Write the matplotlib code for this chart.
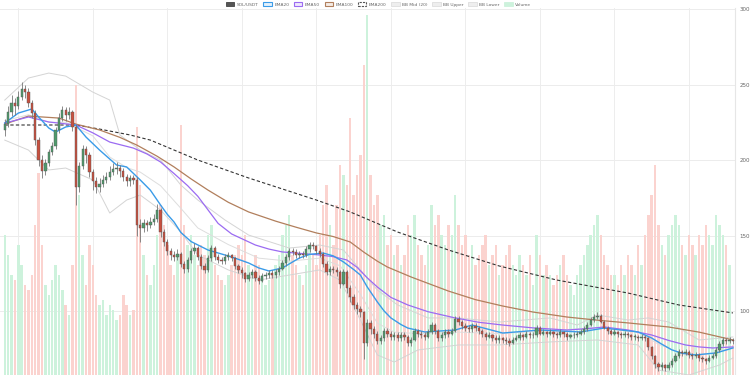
import numpy as np
import matplotlib.pyplot as plt
from matplotlib.patches import Patch, Rectangle

# ---- candles (daily SOL/USDT) ----
first_open = 220
closes = [
    224, 232, 238, 236, 242, 247, 245, 238, 231, 213,
    200, 193, 198, 205, 209, 220, 228, 233, 230, 232,
    222, 182, 196, 207, 203, 192, 186, 182, 184, 187,
    189, 192, 194, 195, 193, 189, 186, 188, 187, 157,
    155, 158, 157, 159, 161, 167, 152, 146, 140, 137,
    136, 138, 131, 128, 134, 140, 142, 136, 130, 127,
    135, 142, 136, 134, 133, 136, 137, 135, 130, 127,
    125, 121, 124, 126, 122, 120, 123, 124, 125, 124,
    126, 128, 132, 136, 140, 139, 137, 138, 137, 141,
    144, 143, 140, 138, 131, 126, 128, 127, 126, 118,
    126, 115, 109, 104, 101, 99, 79, 92, 88, 85,
    80, 82, 87, 85, 83, 84, 82, 84, 83, 79,
    81, 87, 85, 84, 83, 86, 91, 87, 82, 84,
    86, 85, 87, 95, 93, 90, 89, 88, 90, 89,
    87, 85, 83, 84, 82, 81, 82, 81, 80, 79,
    81, 82, 84, 83, 85, 84, 84, 89, 85, 86,
    85, 86, 85, 84, 86, 85, 83, 84, 84, 85,
    86, 88, 91, 94, 96, 97, 93, 89, 87, 85,
    86, 85, 84, 85, 84, 83, 83, 82, 83, 82,
    76, 70, 65, 63, 64, 62, 64, 67, 70, 73,
    72, 73, 71, 70, 71, 69, 68, 67, 69, 70,
    74, 78, 81, 80, 81, 80,
]
highs = [
    227, 236, 243, 241, 246, 252, 250, 248, 240, 233,
    215, 203, 201, 207, 212, 222, 231, 236, 235, 235,
    233, 224, 199, 210, 209, 205, 194, 189, 188, 190,
    192, 196, 198, 199, 197, 195, 191, 190, 190, 189,
    161, 161, 160, 162, 164, 171, 168, 154, 148, 142,
    140, 141, 139, 133, 136, 142, 145, 143, 138, 132,
    137, 144, 143, 138, 136, 138, 139, 138, 136, 131,
    129, 126, 126, 128, 127, 124, 125, 126, 127, 127,
    128, 130, 134, 138, 142, 142, 141, 140, 140, 143,
    146, 146, 144, 142, 139, 133, 130, 130, 129, 127,
    128, 127, 117, 111, 106, 103, 100, 95, 94, 90,
    87, 84, 89, 89, 87, 86, 86, 86, 86, 84,
    83, 89, 88, 87, 86, 88, 93, 92, 88, 86,
    88, 88, 89, 97, 97, 94, 92, 91, 92, 92,
    90, 88, 86, 86, 85, 84, 84, 83, 83, 82,
    83, 84, 86, 85, 87, 86, 86, 91, 90, 88,
    87, 88, 87, 86, 88, 87, 86, 85, 86, 87,
    88, 90, 93, 96, 98, 99, 98, 94, 90, 88,
    88, 87, 86, 87, 86, 85, 85, 84, 85, 84,
    83, 77, 71, 66, 66, 65, 66, 69, 72, 75,
    74, 75, 74, 72, 73, 72, 70, 69, 71, 72,
    76, 80, 83, 82, 83, 82,
]
lows = [
    216, 222, 229, 230, 234, 240, 241, 235, 228, 210,
    196, 188, 190, 196, 203, 207, 218, 226, 226, 227,
    219, 170, 179, 194, 198, 189, 180, 178, 179, 182,
    185, 187, 190, 191, 189, 186, 183, 183, 184, 150,
    146, 152, 153, 155, 157, 159, 149, 143, 137, 134,
    133, 134, 129, 125, 126, 132, 138, 134, 128, 125,
    126, 133, 134, 132, 131, 131, 134, 133, 128, 125,
    122, 119, 120, 122, 120, 118, 119, 121, 122, 122,
    122, 124, 127, 130, 134, 137, 135, 135, 135, 136,
    139, 141, 138, 136, 129, 124, 124, 125, 123, 115,
    117, 112, 106, 101, 98, 96, 68, 77, 85, 82,
    78, 78, 80, 83, 81, 81, 80, 80, 81, 77,
    77, 80, 83, 82, 81, 82, 85, 85, 80, 80,
    82, 83, 84, 86, 91, 88, 87, 86, 86, 87,
    85, 83, 81, 82, 80, 79, 79, 79, 78, 77,
    78, 80, 81, 81, 82, 82, 82, 83, 84, 84,
    83, 84, 83, 82, 83, 83, 81, 82, 82, 83,
    84, 85, 87, 90, 93, 95, 92, 88, 85, 84,
    84, 83, 82, 83, 82, 81, 81, 80, 81, 80,
    74, 68, 62, 60, 61, 60, 61, 63, 66, 69,
    70, 71, 69, 68, 69, 67, 66, 65, 66, 68,
    69, 73, 77, 78, 79, 78,
]
volumes = [
    140, 120, 100, 95, 130, 110, 90, 85, 100, 150,
    202, 130, 90, 80, 95, 110, 100, 85, 70, 60,
    110, 290, 180, 120, 90, 130, 110, 80, 70, 75,
    60, 70, 65, 55, 60, 80, 70, 60, 65, 248,
    190, 120, 100, 90, 110, 140, 170, 150, 130, 110,
    100, 120, 250, 150, 130, 140, 120, 110, 130, 120,
    140, 150, 110, 100, 95, 90, 100, 110, 120, 130,
    120, 140, 110, 100, 120, 110, 100, 90, 95, 100,
    110, 120, 140, 150, 160, 120, 110, 100, 90, 110,
    130, 120, 110, 140, 170, 190, 150, 130, 170, 210,
    200, 190, 257, 180, 200, 220, 310, 360, 200, 170,
    180, 150, 160, 130, 140, 120, 130, 110, 120, 150,
    140, 160, 130, 120, 110, 130, 170, 150, 160, 140,
    130, 150, 140, 180, 150, 130, 140, 120, 130, 110,
    120, 130, 140, 110, 120, 130, 100, 110, 120, 130,
    110, 100, 120, 110, 100, 120, 90, 140, 120, 100,
    110, 100, 90, 100, 110, 120, 100, 90, 80, 100,
    110, 120, 130, 140, 150, 160, 140, 120, 110, 100,
    100, 90, 110, 100, 120, 110, 100, 130, 110, 140,
    160, 180, 210, 150, 130, 120, 140, 150, 160, 150,
    130, 120, 140, 130, 120, 140, 130, 150, 140, 130,
    160, 150, 140, 130, 110, 30,
]

# ---- indicator lines, sampled (candle index, price) ----
ema20_idx = [0, 4, 8, 10, 13, 15, 18, 21, 24, 28, 33, 36, 40, 43, 46, 48, 50, 52, 55, 60,
             65, 68, 72, 75, 78, 82, 85, 87, 90, 94, 97, 100, 103, 105, 107, 110, 112, 114,
             117, 119, 124, 133, 138, 147, 158, 170, 177, 187, 191, 194, 197, 200, 204, 210,
             215]
ema20_val = [224.5, 231.1, 233.8, 228.5, 221.2, 218.5, 221.9, 223.2, 215.2, 206.6, 196.7,
             195.4, 186.8, 180.0, 170.2, 164.0, 158.9, 152.0, 146.0, 140.4, 137.1, 135.0,
             131.8, 128.5, 126.5, 128.5, 132.5, 135.1, 137.5, 138.4, 136.5, 132.5, 127.5,
             123.8, 116.0, 106.0, 100.0, 95.4, 91.0, 88.7, 86.1, 87.4, 90.7, 85.4, 87.4,
             86.1, 88.7, 86.1, 82.1, 78.0, 74.2, 72.0, 70.9, 72.2, 75.5]
ema50_idx = [0, 7, 13, 21, 26, 31, 38, 42, 46, 50, 54, 57, 60, 63, 67, 74, 78, 82, 88, 93,
             97, 101, 104, 107, 110, 114, 119, 125, 133, 140, 147, 156, 166, 172, 177, 184,
             191, 196, 201, 205, 209, 215]
ema50_val = [224.5, 228.5, 225.2, 223.2, 218.0, 211.9, 207.9, 204.0, 198.7, 191.0, 183.0,
             176.0, 167.0, 158.0, 151.0, 143.7, 141.0, 139.1, 138.0, 137.1, 136.0, 133.8,
             129.0, 122.0, 115.9, 109.0, 104.0, 99.5, 95.4, 92.5, 90.7, 88.8, 87.4, 88.3,
             89.4, 87.4, 84.1, 80.5, 77.5, 76.2, 75.5, 76.2]
ema100_idx = [0, 7, 16, 21, 28, 34, 39, 45, 50, 55, 60, 66, 72, 80, 86, 92, 97, 102, 106,
              110, 113, 120, 131, 139, 147, 156, 166, 175, 184, 196, 205, 215]
ema100_val = [223.8, 229.1, 227.8, 223.8, 219.9, 215.0, 209.9, 202.5, 195.4, 187.5, 180.1,
              172.0, 165.6, 159.5, 155.5, 151.7, 149.3, 145.7, 139.0, 133.0, 129.1, 122.5,
              113.2, 107.5, 103.3, 99.3, 96.0, 93.9, 92.1, 89.4, 86.0, 80.8]
ema200_idx = [0, 21, 28, 37, 43, 50, 57, 72, 92, 102, 116, 131, 146, 163, 184, 199, 215]
ema200_val = [223.2, 223.2, 220.5, 216.6, 213.2, 206.6, 200.0, 188.1, 173.5, 165.6, 152.3,
              140.4, 129.8, 120.5, 111.9, 104.0, 98.7]

bb_up_idx = [0, 7, 13, 18, 26, 31, 34, 40, 46, 52, 57, 65, 72, 84, 93, 100, 105, 110, 116,
             125, 134, 146, 161, 169, 175, 184, 190, 196, 205, 215]
bb_up_val = [239.7, 254.3, 257.6, 255.6, 245.0, 239.7, 216.6, 206.6, 200.0, 183.4, 173.5,
             160.3, 150.3, 141.7, 143.7, 140.4, 127.2, 113.9, 104.0, 95.4, 95.4, 92.7, 95.4,
             90.7, 97.4, 94.0, 95.4, 92.7, 80.8, 82.8]
bb_lo_idx = [0, 7, 13, 18, 26, 31, 36, 40, 46, 52, 57, 66, 75, 84, 93, 99, 105, 110, 115,
             122, 134, 146, 161, 175, 187, 193, 202, 211, 215]
bb_lo_val = [213.2, 206.6, 193.4, 194.7, 186.8, 164.9, 173.5, 176.8, 166.9, 152.3, 137.1,
             127.2, 120.5, 123.8, 127.2, 120.5, 94.0, 70.9, 66.2, 74.2, 77.5, 77.5, 79.5,
             80.8, 77.5, 60.9, 57.6, 64.2, 68.9]
bb_mid_idx = [0, 7, 13, 18, 26, 31, 36, 40, 46, 52, 57, 66, 75, 84, 93, 99, 105, 110, 115,
              122, 134, 146, 161, 175, 187, 193, 202, 211, 215]
bb_mid_val = [226, 230, 225, 225, 216, 202, 195, 192, 183, 168, 155, 144, 135, 133, 135, 130,
              111, 92, 86, 85, 86, 85, 87, 89, 86, 78, 70, 73, 76]

price_ticks = [100, 150, 200, 250, 300]

UP, DOWN = "#4f9b6c", "#c9503f"
VOL_UP, VOL_DOWN = "#cdf2dc", "#fbd3cf"

opens = [first_open] + closes[:-1]
n = len(closes)
x = np.arange(n)
up = np.array(closes) >= np.array(opens)

fig = plt.figure(figsize=(7.5, 3.75), dpi=100)
rect = [0.0, 0.0, 735 / 750, 367 / 375]
axv = fig.add_axes(rect)
ax = fig.add_axes(rect, sharex=axv)
ax.patch.set_visible(False)

# volume underneath
axv.bar(x, volumes, width=0.72, color=[VOL_UP if u else VOL_DOWN for u in up], zorder=1)
axv.set_ylim(0, 367)
axv.set_yticks([])
axv.set_xlim(-1.4, n - 0.4)
for s in axv.spines.values():
    s.set_visible(False)
axv.spines["right"].set_visible(True)
axv.spines["right"].set_color("#e6e6e6")
axv.spines["right"].set_linewidth(0.8)
for gx in range(4, n, 22):
    axv.axvline(gx, color="#ededed", lw=0.7, zorder=0)
for t in price_ticks:
    axv.axhline((t - 57.6) / (300.7 - 57.6) * 367, color="#ececec", lw=0.7, zorder=0)
axv.tick_params(axis="x", length=0, labelbottom=False)

# bollinger bands
ax.plot(bb_up_idx, bb_up_val, color="#d4d4d4", lw=0.7, zorder=2)
ax.plot(bb_lo_idx, bb_lo_val, color="#d4d4d4", lw=0.7, zorder=2)
ax.plot(bb_mid_idx, bb_mid_val, color="#dddddd", lw=0.7, zorder=2)

# EMAs
ax.plot(ema200_idx, ema200_val, color="#333333", lw=0.8, ls=(0, (3, 2)), zorder=3)
ax.plot(ema100_idx, ema100_val, color="#b17f5c", lw=0.9, zorder=3)
ax.plot(ema50_idx, ema50_val, color="#9b6bf2", lw=0.9, zorder=3)
ax.plot(ema20_idx, ema20_val, color="#3a9be8", lw=1.0, zorder=3)

# candles
for i in range(n):
    o, c, h, l = opens[i], closes[i], highs[i], lows[i]
    col = UP if up[i] else DOWN
    ax.vlines(i, l, h, color="#777777", lw=0.6, zorder=4)
    lo, hi = min(o, c), max(o, c)
    ax.add_patch(Rectangle((i - 0.33, lo), 0.66, max(hi - lo, 0.4), facecolor=col,
                           edgecolor="#555555", lw=0.3, zorder=5))

ax.set_ylim(57.6, 300.7)
ax.set_yticks(price_ticks)
ax.yaxis.tick_right()
ax.tick_params(axis="y", length=0, pad=3, labelsize=4, labelcolor="#666666")
ax.tick_params(axis="x", length=0, labelbottom=False)
for s in ax.spines.values():
    s.set_visible(False)

handles = [
    Patch(facecolor="#555555", edgecolor="#444444", lw=0.6),
    Patch(facecolor="#e3f1fc", edgecolor="#3a9be8", lw=0.8),
    Patch(facecolor="#efe8fd", edgecolor="#9b6bf2", lw=0.8),
    Patch(facecolor="#f5ece6", edgecolor="#b17f5c", lw=0.8),
    Patch(facecolor="white", edgecolor="#555555", lw=0.8, ls=(0, (2, 1))),
    Patch(facecolor="#eeeeee", edgecolor="#dddddd", lw=0.6),
    Patch(facecolor="#eeeeee", edgecolor="#dddddd", lw=0.6),
    Patch(facecolor="#eeeeee", edgecolor="#dddddd", lw=0.6),
    Patch(facecolor=VOL_UP, edgecolor=VOL_UP, lw=0.6),
]
labels = ["SOL/USDT", "EMA20", "EMA50", "EMA100", "EMA200", "BB Mid (20)", "BB Upper",
          "BB Lower", "Volume"]
fig.legend(handles, labels, loc="center", bbox_to_anchor=(0.505, 0.988), ncol=9,
           frameon=False, fontsize=3.2, labelcolor="#666666", handlelength=1.9,
           handleheight=1.1, handletextpad=0.6, columnspacing=1.0, borderpad=0)

fig.savefig("out.png", dpi=100)
